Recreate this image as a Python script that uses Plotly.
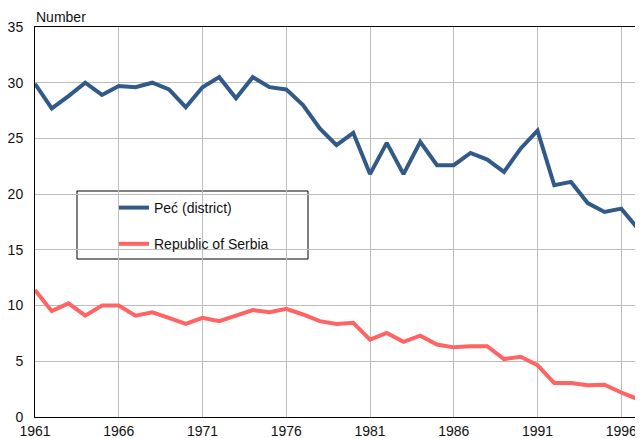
import plotly.graph_objects as go

years = list(range(1961, 1998))
pec = [29.9, 27.7, 28.8, 30.0, 28.9, 29.7, 29.6, 30.0, 29.4, 27.8,
       29.6, 30.5, 28.6, 30.5, 29.6, 29.4, 28.0, 25.9, 24.4, 25.5,
       21.8, 24.6, 21.8, 24.7, 22.6, 22.6, 23.7, 23.1, 22.0, 24.1,
       25.7, 20.8, 21.1, 19.2, 18.4, 18.7, 16.9]
serbia = [11.4, 9.5, 10.2, 9.1, 10.0, 10.0, 9.1, 9.4, 8.9, 8.35,
          8.9, 8.6, 9.1, 9.6, 9.4, 9.7, 9.2, 8.6, 8.35, 8.45,
          6.95, 7.55, 6.75, 7.3, 6.5, 6.25, 6.35, 6.35, 5.2, 5.4,
          4.65, 3.05, 3.05, 2.85, 2.9, 2.2, 1.6]
xticks = list(range(1961, 1997, 5))
yticks = [0, 5, 10, 15, 20, 25, 30, 35]

font = "Liberation Sans, Arial, sans-serif"
W, H = 643, 438
# page has an 8px body margin; target plot area in page pixels: x 35..638, y 27..417
OFF = 8
PX0, PX1, PY0, PY1 = 35, 638, 27, 417
L, T = PX0 - OFF, PY0 - OFF
R = W - (PX1 - OFF)
B = H - (PY1 - OFF)
pw, ph = PX1 - PX0, PY1 - PY0

def px(xp):
    return (xp - PX0) / pw

def py(yp):
    return (PY1 - yp) / ph

fig = go.Figure()
fig.add_trace(go.Scatter(x=years, y=pec, mode="lines", name="Peć (district)",
                         line=dict(color="#315A89", width=4), legendgroup="a"))
fig.add_trace(go.Scatter(x=years, y=serbia, mode="lines", name="Republic of Serbia",
                         line=dict(color="#FF6363", width=4), legendgroup="b"))

fig.update_layout(
    width=W, height=H,
    margin=dict(l=L, r=R, t=T, b=B, autoexpand=False),
    paper_bgcolor="white", plot_bgcolor="white",
    font=dict(family=font, size=14, color="#111"),
    showlegend=True,
    legend=dict(x=px(114), y=py(192), xanchor="left", yanchor="top",
                bgcolor="rgba(0,0,0,0)", borderwidth=0, tracegroupgap=15,
                font=dict(size=14, family=font, color="#111"), itemwidth=30),
    shapes=[dict(type="rect", xref="paper", yref="paper",
                 x0=px(77), x1=px(308), y0=py(259), y1=py(191),
                 line=dict(color="black", width=1), fillcolor="white", layer="below")],
    annotations=[dict(text="Number", xref="paper", yref="paper", x=px(34), y=py(17),
                      xanchor="left", yanchor="middle", showarrow=False,
                      font=dict(size=14, family=font, color="#111"))],
)
fig.update_xaxes(range=[1961, 1997], tickmode="array", tickvals=xticks,
                 ticktext=[str(t) for t in xticks], showgrid=True, gridcolor="#BDBDBD",
                 gridwidth=1, showline=True, linecolor="black", linewidth=1, mirror=True,
                 ticks="", zeroline=False, automargin=False, ticklabelstandoff=1)
fig.update_yaxes(range=[0, 35], tickmode="array", tickvals=yticks, showgrid=True,
                 gridcolor="#BDBDBD", gridwidth=1, showline=True, linecolor="black",
                 linewidth=1, mirror=True, ticks="", zeroline=False, automargin=False,
                 ticklabelstandoff=8)

fig.write_html("out.html")
